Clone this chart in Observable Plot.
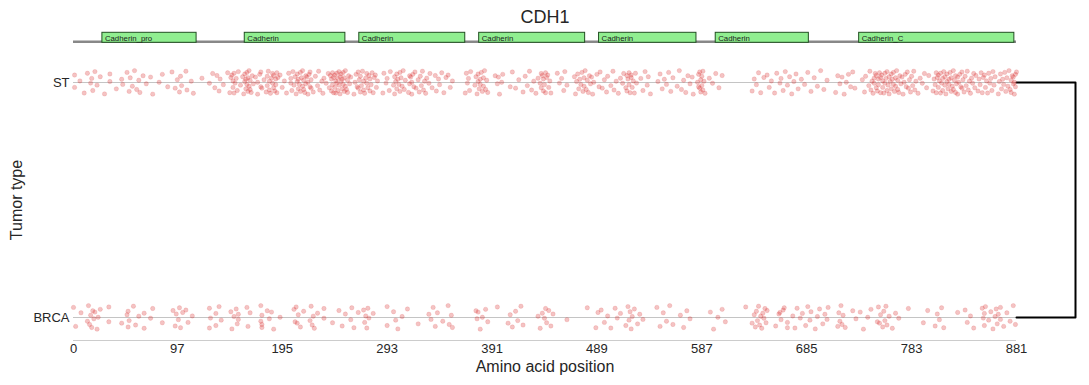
<!DOCTYPE html>
<html>
<head>
<meta charset="utf-8">
<script src="https://cdn.jsdelivr.net/npm/d3@7"></script>
<script src="https://cdn.jsdelivr.net/npm/@observablehq/plot@0.6"></script>
<style>
  html, body { margin: 0; padding: 0; background: #fff; }
  #chart svg { display: block; }
</style>
</head>
<body>
<div id="chart"></div>
<script>
// ---------- data ----------
const GENE = "CDH1";
const PROTEIN_LENGTH = 881;
const X_TICKS = [0, 97, 195, 293, 391, 489, 587, 685, 783, 881];
const TUMOR_TYPES = ["BRCA", "ST"];

const DOMAIN_NAMES  = ["Cadherin_pro", "Cadherin", "Cadherin", "Cadherin", "Cadherin", "Cadherin", "Cadherin_C"];
const DOMAIN_STARTS = [27, 160, 267, 379, 491, 600, 734];
const DOMAIN_ENDS   = [115, 254, 366, 478, 582, 687, 879];

// mutation positions (amino acid)
const ST_POSITIONS = [
  1,1,6,10,13,16,17,18,20,22,25,29,34,34,40,45,46,50,52,53,55,57,59,61,62,65,68,72,74,80,83,88,92,95,97,99,100,101,105,106,110,112,120,127,130,132,134,136,137,140,144,146,
  147,148,149,149,150,150,151,152,153,154,156,158,159,160,160,161,
  161,162,162,163,163,164,164,165,165,166,167,168,170,172,172,174,175,175,176,
  178,180,181,181,182,183,183,184,185,186,186,187,187,188,189,189,190,190,191,193,195,197,199,
  201,203,203,204,205,206,207,208,209,209,210,210,211,212,212,213,214,214,215,215,216,217,217,218,219,219,220,221,221,222,222,
  224,226,228,229,230,232,233,234,236,238,239,
  240,241,241,242,242,243,243,244,244,245,245,246,246,247,247,248,248,249,249,250,250,251,251,252,252,253,253,254,254,255,256,256,257,258,259,
  262,263,264,265,266,266,267,268,268,269,270,271,271,272,273,274,274,275,276,277,277,278,279,280,281,282,283,284,
  289,290,292,293,295,296,
  299,300,300,301,302,302,303,304,305,305,306,307,308,309,310,313,314,314,315,316,316,317,318,319,320,
  322,323,324,325,326,327,328,329,330,332,333,335,
  338,339,341,342,344,346,348,350,352,354,
  366,367,368,369,370,371,
  375,376,377,378,378,379,380,380,381,382,383,383,384,385,386,387,
  394,396,397,398,400,401,
  408,410,413,416,
  420,422,424,426,428,430,432,434,
  436,437,437,438,439,439,440,441,441,442,443,444,445,446,
  452,454,456,458,459,461,
  468,469,470,471,472,473,474,475,476,477,477,478,479,480,481,482,483,484,485,486,
  489,491,492,494,496,498,499,
  502,504,505,507,509,511,513,514,
  516,517,517,518,519,519,520,521,521,522,523,524,525,526,
  530,532,534,536,537,539,
  546,548,550,552,554,556,558,560,
  564,566,568,570,572,574,576,578,579,
  583,584,584,585,585,586,586,587,587,588,588,589,590,
  594,597,600,603,606,
  634,636,638,640,642,645,
  648,650,652,655,657,660,661,
  663,665,667,669,671,673,675,
  677,680,683,686,689,692,695,698,701,704,
  712,714,716,718,720,722,724,726,728,730,
  737,739,740,
  743,744,745,746,747,748,748,749,750,750,751,752,752,753,754,754,755,756,756,757,758,758,759,760,760,761,762,762,763,764,764,765,766,766,767,768,768,769,770,770,771,772,773,774,775,776,777,778,779,780,781,782,783,784,785,786,787,
  789,791,793,795,797,799,
  803,804,805,806,806,807,808,808,809,810,810,811,812,812,813,814,814,815,816,816,817,818,818,819,820,820,821,822,822,823,824,824,825,826,826,827,828,829,830,830,831,832,833,834,835,836,837,838,839,840,841,842,843,
  845,846,847,848,849,850,851,852,853,854,855,856,857,858,859,860,861,
  864,865,866,867,868,869,870,871,872,873,874,875,876,876,877,878,878,879,879,880,880,881
];

const BRCA_POSITIONS = [
  0,2,7,13,14,15,16,17,18,19,20,22,23,25,33,33,45,50,51,51,52,56,58,61,66,66,72,74,83,93,95,96,98,99,100,102,105,107,111,
  127,127,128,133,133,136,138,147,148,150,152,153,154,154,162,163,165,175,175,176,176,176,181,183,185,187,193,
  206,207,208,209,210,212,215,221,222,223,224,225,228,234,234,242,248,251,254,259,260,262,266,271,272,273,274,275,276,280,293,293,301,
  299,303,307,312,322,332,334,336,338,340,345,350,351,353,354,376,377,378,380,382,385,387,396,
  406,408,410,413,415,418,420,434,436,438,440,441,442,444,446,448,461,480,488,490,493,496,499,
  502,506,508,511,516,518,519,520,521,522,524,527,529,532,545,548,551,554,557,560,567,570,573,576,595,598,602,606,609,
  628,634,636,637,638,639,640,641,642,643,644,645,646,647,648,656,659,661,664,667,
  660,663,667,672,674,676,679,681,684,686,688,689,693,695,697,700,702,704,705,714,715,716,717,718,719,721,728,731,735,738,742,745,
  751,752,753,754,756,757,758,759,760,762,765,768,771,780,794,798,805,807,809,811,813,826,833,835,838,841,
  849,850,851,851,852,855,857,859,861,862,863,864,866,866,869,872,875,878,880
];

// strip-plot jitter offsets (fraction of the jitter half-width)
const JITTER = [0.62,-0.41,0.13,-0.88,0.77,-0.05,0.34,-0.67,0.91,-0.22,0.48,-0.95,0.08,0.71,-0.53,0.27,-0.16,0.84,-0.74,0.39,-0.31,0.99,-0.58,0.19,-0.83,0.56,-0.11,0.45,-0.97,0.02,0.68,-0.36,0.88,-0.47,0.23,-0.79,0.52,-0.26,0.94,-0.63,0.11,-0.9,0.36,-0.06,0.75,-0.44,0.58,-0.71,0.29,-0.18,0.81,-0.85,0.42];

// ---------- build tables ----------
const ROW = {BRCA: 0, ST: 1};
const JIT_W = 12 / 235;  // half-width of jitter in row units
const points = [];
ST_POSITIONS.forEach((p, i) => points.push({pos: p, type: "ST", row: ROW.ST + JITTER[i % JITTER.length] * JIT_W}));
BRCA_POSITIONS.forEach((p, i) => points.push({pos: p, type: "BRCA", row: ROW.BRCA + JITTER[(i + 17) % JITTER.length] * JIT_W}));

const domains = DOMAIN_NAMES.map((name, i) => ({name, start: DOMAIN_STARTS[i], end: DOMAIN_ENDS[i]}));

// layout helper: pixel row → y units (BRCA row at 317px, ST row at 82px)
const py = px => (317 - px) / 235;
const pxPerAA = (1016 - 73) / PROTEIN_LENGTH;
const bracketX = PROTEIN_LENGTH + 59 / pxPerAA;

const FONT = "'Liberation Sans', Arial, Helvetica, sans-serif";
const TXT = "#262626";
const RED = "#d62728";

const chart = Plot.plot({
  width: 1089,
  height: 385,
  marginLeft: 73,
  marginRight: 73,
  marginTop: 0,
  marginBottom: 45,
  x: {domain: [0, PROTEIN_LENGTH], range: [73, 1016], axis: null},
  y: {domain: [0, 1], range: [317, 82], axis: null},
  style: {fontFamily: FONT, background: "#fff", overflow: "visible"},
  marks: [
    // title
    Plot.text([GENE], {x: PROTEIN_LENGTH / 2, y: py(17), text: d => d, fontSize: 18, fill: TXT, textAnchor: "middle", lineAnchor: "middle"}),
    // backbone
    Plot.ruleY([py(41.3)], {x1: 0, x2: PROTEIN_LENGTH, stroke: "#888", strokeWidth: 2.5}),
    // domains
    Plot.rect(domains, {x1: "start", x2: "end", y1: py(42.3), y2: py(32.3), fill: "#90ee90", stroke: "#224f22", strokeWidth: 1}),
    Plot.text(domains, {x: "start", y: py(37.6), text: "name", fontSize: 7.8, fill: "#1a1a1a", textAnchor: "start", lineAnchor: "middle", dx: 2.5}),
    // row lines
    Plot.ruleY(TUMOR_TYPES, {y: d => ROW[d], x1: 0, x2: PROTEIN_LENGTH, stroke: "#c4c4c4", strokeWidth: 1}),
    // x axis line
    Plot.ruleY([0], {x1: 0, x2: PROTEIN_LENGTH, dy: 23, stroke: "#cccccc", strokeWidth: 1.2}),
    // bracket
    Plot.line([[PROTEIN_LENGTH, ROW.ST], [bracketX, ROW.ST], [bracketX, ROW.BRCA], [PROTEIN_LENGTH, ROW.BRCA]], {x: d => d[0], y: d => d[1], stroke: "#000", strokeWidth: 2}),
    // points
    Plot.dot(points, {x: "pos", y: "row", r: 2.2, fill: RED, fillOpacity: 0.28, stroke: RED, strokeOpacity: 0.22, strokeWidth: 0.6}),
    // y tick labels
    Plot.text(TUMOR_TYPES, {x: 0, y: d => ROW[d], text: d => d, dx: -4, textAnchor: "end", lineAnchor: "middle", fontSize: 13, fill: TXT}),
    // x tick labels
    Plot.text(X_TICKS, {x: d => d, y: 0, text: d => String(d), dy: 31, textAnchor: "middle", lineAnchor: "middle", fontSize: 13, fill: TXT}),
    // x axis title
    Plot.text(["Amino acid position"], {x: PROTEIN_LENGTH / 2, y: 0, text: d => d, dy: 49, textAnchor: "middle", lineAnchor: "middle", fontSize: 16, fill: TXT}),
    // y axis title
    Plot.text(["Tumor type"], {x: 0, y: 0.5, text: d => d, dx: -57, rotate: -90, textAnchor: "middle", lineAnchor: "middle", fontSize: 16, fill: TXT})
  ]
});

document.getElementById("chart").appendChild(chart);
</script>
</body>
</html>
